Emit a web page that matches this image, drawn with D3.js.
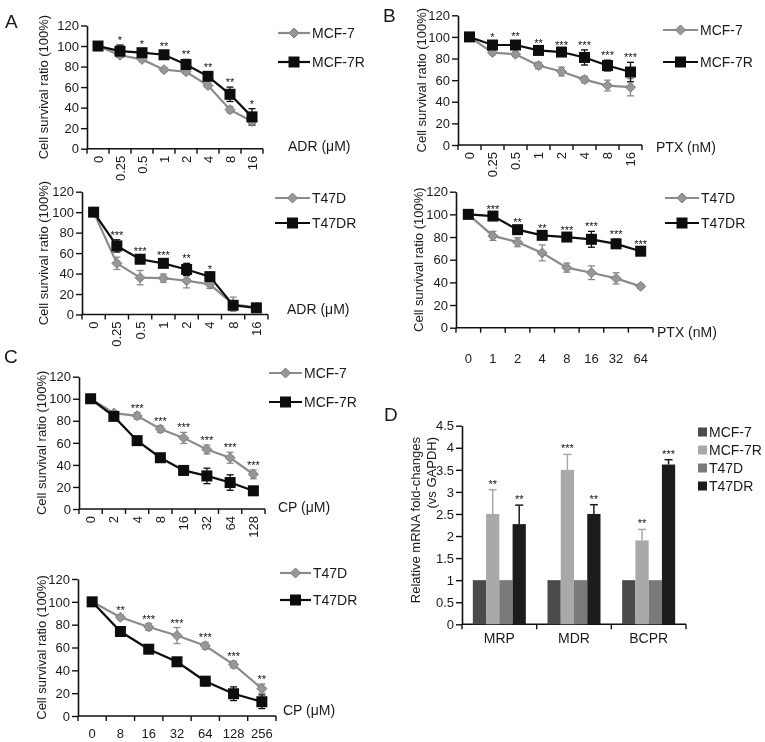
<!DOCTYPE html>
<html><head><meta charset="utf-8">
<script src="https://cdn.jsdelivr.net/npm/d3@7"></script>
<style>
body{margin:0;background:#fff;}
svg{will-change:transform;}
text{font-family:"Liberation Sans",Arial,sans-serif;fill:#1a1a1a;}
.stars text{fill:#111;}
</style></head>
<body><svg id="chart" width="765" height="742"></svg>
<script>
// ---------- DATA ----------
const yTicksSurvival = [0, 20, 40, 60, 80, 100, 120];

const A1_doses = ["0","0.25","0.5","1","2","4","8","16"];
const A1_mcf7 = [100, 91, 87, 77, 75, 61.5, 38, 26.5];
const A1_mcf7_err = [0, 2, 2, 2, 2, 2, 3, 2];
const A1_mcf7r = [100, 95, 93.5, 91.5, 82, 70.5, 53, 31];
const A1_mcf7r_err = [0, 6, 4, 4, 5, 4, 7, 8];
const A1_stars = ["", "*", "*", "**", "**", "**", "**", "*"];

const A2_doses = ["0","0.25","0.5","1","2","4","8","16"];
const A2_t47d = [100, 50, 36, 35.5, 33, 29.5, 10, 7];
const A2_t47d_err = [0, 6, 7, 4, 7, 4, 7, 2];
const A2_t47dr = [100, 67, 54, 50, 44, 37, 9, 6.5];
const A2_t47dr_err = [0, 6, 3, 3, 6, 3, 3, 2];
const A2_stars = ["", "***", "***", "***", "**", "*", "", ""];

const B1_doses = ["0","0.25","0.5","1","2","4","8","16"];
const B1_mcf7 = [100, 85.5, 84, 73.5, 68, 60.5, 55, 53.5];
const B1_mcf7_err = [0, 2, 2, 3, 4, 3, 5, 8];
const B1_mcf7r = [100, 92.5, 92.5, 87.5, 86, 81, 73.5, 67.5];
const B1_mcf7r_err = [0, 3, 4, 2, 2, 7, 5, 9];
const B1_stars = ["", "*", "**", "**", "***", "***", "***", "***"];

const B2_doses = ["0","1","2","4","8","16","32","64"];
const B2_t47d = [100, 81, 75.5, 66, 53, 48.5, 43.5, 36.5];
const B2_t47d_err = [0, 4, 4, 7, 4, 6, 5, 2];
const B2_t47dr = [100, 98.5, 86.5, 81.5, 80, 78, 74, 67.5];
const B2_t47dr_err = [0, 2, 2, 2, 2, 7, 4, 2];
const B2_stars = ["", "***", "**", "**", "***", "***", "***", "***"];

const C1_doses = ["0","2","4","8","16","32","64","128"];
const C1_mcf7 = [100, 87, 84.5, 72.5, 64.5, 54, 46.5, 31.5];
const C1_mcf7_err = [0, 2, 3, 3, 5, 4, 5, 4];
const C1_mcf7r = [100, 84, 62, 46.5, 35, 30, 24, 16.5];
const C1_mcf7r_err = [0, 2, 2, 2, 4, 7, 7, 2];
const C1_stars = ["", "", "***", "***", "***", "***", "***", "***"];

const C2_doses = ["0","8","16","32","64","128","256"];
const C2_t47d = [100, 86.5, 78, 70.5, 61.5, 45, 24];
const C2_t47d_err = [0, 2, 3, 7, 3, 3, 4];
const C2_t47dr = [100, 74, 58.5, 47.5, 30.5, 19.5, 12.5];
const C2_t47dr_err = [0, 2, 2, 2, 4, 6, 6];
const C2_stars = ["", "**", "***", "***", "***", "***", "**"];

const D_genes = ["MRP", "MDR", "BCPR"];
const D_series = ["MCF-7", "MCF-7R", "T47D", "T47DR"];
const D_mcf7 = [1, 1, 1];
const D_mcf7r = [2.5, 3.5, 1.9];
const D_t47d = [1, 1, 1];
const D_t47dr = [2.27, 2.5, 3.62];
const D_mcf7r_err = [0.55, 0.35, 0.25];
const D_t47dr_err = [0.43, 0.21, 0.11];
const D_mcf7r_stars = ["**", "***", "**"];
const D_t47dr_stars = ["**", "**", "***"];
const D_yTicks = [0, 0.5, 1, 1.5, 2, 2.5, 3, 3.5, 4, 4.5];

// ---------- STYLE ----------
const GRAY = "#8b8b8b", BLACK = "#0d0d0d";
const D_colors = ["#4b4b4b", "#a9a9a9", "#7a7a7a", "#1c1c1c"];
const svg = d3.select("#chart");

function linePanel(cfg) {
  const g = svg.append("g");
  const x = d3.scaleBand().domain(cfg.doses).range([cfg.x0, cfg.x1]);
  const y = d3.scaleLinear().domain([0, 120]).range([cfg.yb, cfg.yt]);
  const ya = g.append("g").attr("transform", `translate(${cfg.x0},0)`)
    .call(d3.axisLeft(y).tickValues(yTicksSurvival).tickSize(6).tickSizeOuter(0).tickPadding(2));
  ya.select(".domain").attr("stroke", "#111").attr("stroke-width", 1.6);
  ya.selectAll(".tick line").attr("stroke", "#111").attr("stroke-width", 1.4);
  ya.selectAll(".tick text").style("font-size", "13px").attr("fill", "#1a1a1a");
  g.append("line").attr("x1", cfg.x0).attr("x2", cfg.x1).attr("y1", cfg.yb).attr("y2", cfg.yb)
    .attr("stroke", "#111").attr("stroke-width", 1.6);
  const bounds = cfg.doses.map(d => x(d)).concat([cfg.x1]);
  g.selectAll(".xt").data(bounds).enter().append("line")
    .attr("x1", d => d).attr("x2", d => d).attr("y1", cfg.yb).attr("y2", cfg.yb + 5)
    .attr("stroke", "#111").attr("stroke-width", 1.4);
  const cx = d => x(d) + x.bandwidth() / 2;
  if (cfg.rotate) {
    g.selectAll(".xl").data(cfg.doses).enter().append("text")
      .attr("transform", d => `translate(${cx(d)},${cfg.yb + 7}) rotate(-90)`)
      .attr("text-anchor", "end").attr("dy", "0.35em").style("font-size", "13px").text(d => d);
  } else {
    g.selectAll(".xl").data(cfg.doses).enter().append("text")
      .attr("x", cx).attr("y", cfg.labelY).attr("text-anchor", "middle")
      .style("font-size", "13px").text(d => d);
  }
  g.append("text").attr("transform", `translate(${cfg.titleX},${(cfg.yt + cfg.yb) / 2}) rotate(-90)`)
    .attr("text-anchor", "middle").attr("dy", "0.35em").style("font-size", "13px")
    .text("Cell survival ratio (100%)");
  g.append("text").attr("x", cfg.unitX).attr("y", cfg.unitY).attr("dy", "0.35em")
    .style("font-size", "14px").text(cfg.unit);
  const series = [
    {vals: cfg.s1, err: cfg.e1, color: GRAY, shape: "diamond", name: cfg.n1},
    {vals: cfg.s2, err: cfg.e2, color: BLACK, shape: "square", name: cfg.n2}
  ];
  const line = d3.line().x((v, i) => cx(cfg.doses[i])).y(v => y(v));
  series.forEach(s => {
    g.append("path").datum(s.vals).attr("d", line).attr("fill", "none")
      .attr("stroke", s.color).attr("stroke-width", 2.2);
    s.vals.forEach((v, i) => {
      if (!s.err[i]) return;
      const xx = cx(cfg.doses[i]);
      const top = y(v + s.err[i]), bot = y(v - s.err[i]);
      g.append("line").attr("x1", xx).attr("x2", xx).attr("y1", top).attr("y2", bot)
        .attr("stroke", s.color).attr("stroke-width", 1.3);
      [top, bot].forEach(yy => g.append("line").attr("x1", xx - 3.5).attr("x2", xx + 3.5)
        .attr("y1", yy).attr("y2", yy).attr("stroke", s.color).attr("stroke-width", 1.3));
    });
  });
  series.forEach(s => {
    s.vals.forEach((v, i) => drawMarker(g, s.shape, cx(cfg.doses[i]), y(v), s.color));
  });
  const sg = g.append("g").attr("class", "stars");
  cfg.stars.forEach((st, i) => {
    if (!st) return;
    const t1 = cfg.s1[i] + cfg.e1[i], t2 = cfg.s2[i] + cfg.e2[i];
    sg.append("text").attr("x", cx(cfg.doses[i])).attr("y", y(Math.max(t1, t2)) - 1)
      .attr("text-anchor", "middle").style("font-size", "11px").text(st);
  });
  series.forEach((s, k) => {
    const ly = cfg.legY[k];
    g.append("line").attr("x1", cfg.legX0).attr("x2", cfg.legX1).attr("y1", ly).attr("y2", ly)
      .attr("stroke", s.color).attr("stroke-width", 2.2);
    drawMarker(g, s.shape, (cfg.legX0 + cfg.legX1) / 2, ly, s.color);
    g.append("text").attr("x", cfg.legX1 + 2).attr("y", ly).attr("dy", "0.35em")
      .style("font-size", "14px").text(s.name);
  });
  if (cfg.letter) g.append("text").attr("x", cfg.letterX).attr("y", cfg.letterY)
    .style("font-size", "19px").text(cfg.letter);
}

function drawMarker(g, shape, x, y, color) {
  if (shape === "square") {
    g.append("rect").attr("x", x - 5.5).attr("y", y - 5.5).attr("width", 11).attr("height", 11)
      .attr("fill", color);
  } else {
    g.append("path").attr("d", `M${x},${y - 5}L${x + 5},${y}L${x},${y + 5}L${x - 5},${y}Z`)
      .attr("fill", "#979797").attr("stroke", "#7d7d7d").attr("stroke-width", 1);
  }
}

linePanel({doses: A1_doses, s1: A1_mcf7, e1: A1_mcf7_err, s2: A1_mcf7r, e2: A1_mcf7r_err,
  stars: A1_stars, n1: "MCF-7", n2: "MCF-7R", x0: 87, x1: 263, yt: 25.5, yb: 148.7,
  rotate: true, titleX: 43, unit: "ADR (\u03bcM)", unitX: 288, unitY: 146,
  legX0: 278, legX1: 310, legY: [33, 62], letter: "A", letterX: 5, letterY: 28});
linePanel({doses: A2_doses, s1: A2_t47d, e1: A2_t47d_err, s2: A2_t47dr, e2: A2_t47dr_err,
  stars: A2_stars, n1: "T47D", n2: "T47DR", x0: 82, x1: 268, yt: 191.7, yb: 314.5,
  rotate: true, titleX: 43, unit: "ADR (\u03bcM)", unitX: 287, unitY: 309,
  legX0: 275, legX1: 310, legY: [198, 223]});
linePanel({doses: B1_doses, s1: B1_mcf7, e1: B1_mcf7_err, s2: B1_mcf7r, e2: B1_mcf7r_err,
  stars: B1_stars, n1: "MCF-7", n2: "MCF-7R", x0: 458, x1: 642, yt: 15.3, yb: 145,
  rotate: true, titleX: 421, unit: "PTX (nM)", unitX: 656, unitY: 147,
  legX0: 663, legX1: 698, legY: [30, 62], letter: "B", letterX: 383, letterY: 22});
linePanel({doses: B2_doses, s1: B2_t47d, e1: B2_t47d_err, s2: B2_t47dr, e2: B2_t47dr_err,
  stars: B2_stars, n1: "T47D", n2: "T47DR", x0: 456, x1: 653, yt: 191.7, yb: 327.7,
  rotate: false, labelY: 363, titleX: 418, unit: "PTX (nM)", unitX: 657, unitY: 332,
  legX0: 665, legX1: 699, legY: [198, 223]});
linePanel({doses: C1_doses, s1: C1_mcf7, e1: C1_mcf7_err, s2: C1_mcf7r, e2: C1_mcf7r_err,
  stars: C1_stars, n1: "MCF-7", n2: "MCF-7R", x0: 79, x1: 265, yt: 376.7, yb: 509,
  rotate: true, titleX: 41, unit: "CP (\u03bcM)", unitX: 278, unitY: 507,
  legX0: 269, legX1: 302, legY: [373, 402], letter: "C", letterX: 4, letterY: 363});
linePanel({doses: C2_doses, s1: C2_t47d, e1: C2_t47d_err, s2: C2_t47dr, e2: C2_t47dr_err,
  stars: C2_stars, n1: "T47D", n2: "T47DR", x0: 78, x1: 276, yt: 579, yb: 716,
  rotate: false, labelY: 738, titleX: 41, unit: "CP (\u03bcM)", unitX: 283, unitY: 710,
  legX0: 280, legX1: 311, legY: [573, 600]});

// ---------- Panel D ----------
(function () {
  const g = svg.append("g");
  const x0 = 462, x1 = 686, yt = 425.7, yb = 624.3;
  const x = d3.scaleBand().domain(D_genes).range([x0, x1]).paddingInner(0.29).paddingOuter(0.145);
  const xs = d3.scaleBand().domain(D_series).range([0, x.bandwidth()]);
  const y = d3.scaleLinear().domain([0, 4.5]).range([yb, yt]);
  const ya = g.append("g").attr("transform", `translate(${x0},0)`)
    .call(d3.axisLeft(y).tickValues(D_yTicks).tickFormat(d => String(d)).tickSize(6).tickSizeOuter(0).tickPadding(2));
  ya.select(".domain").attr("stroke", "#111").attr("stroke-width", 1.6);
  ya.selectAll(".tick line").attr("stroke", "#111").attr("stroke-width", 1.4);
  ya.selectAll(".tick text").style("font-size", "13px").attr("fill", "#1a1a1a");
  g.append("line").attr("x1", x0).attr("x2", x1).attr("y1", yb).attr("y2", yb)
    .attr("stroke", "#111").attr("stroke-width", 1.6);
  const step = (x1 - x0) / D_genes.length;
  d3.range(D_genes.length + 1).forEach(i => g.append("line")
    .attr("x1", x0 + i * step).attr("x2", x0 + i * step).attr("y1", yb).attr("y2", yb + 5)
    .attr("stroke", "#111").attr("stroke-width", 1.4));
  const vals = [D_mcf7, D_mcf7r, D_t47d, D_t47dr];
  const errs = [null, D_mcf7r_err, null, D_t47dr_err];
  const stars = [null, D_mcf7r_stars, null, D_t47dr_stars];
  const sg = g.append("g").attr("class", "stars");
  D_genes.forEach((gene, gi) => {
    D_series.forEach((s, si) => {
      const v = vals[si][gi];
      const bx = x(gene) + xs(s), bw = xs.bandwidth();
      g.append("rect").attr("x", bx).attr("y", y(v)).attr("width", bw).attr("height", yb - y(v))
        .attr("fill", D_colors[si]);
      if (errs[si]) {
        const top = y(v + errs[si][gi]), cxp = bx + bw / 2;
        g.append("line").attr("x1", cxp).attr("x2", cxp).attr("y1", y(v)).attr("y2", top)
          .attr("stroke", D_colors[si]).attr("stroke-width", 1.5);
        g.append("line").attr("x1", cxp - 4).attr("x2", cxp + 4).attr("y1", top).attr("y2", top)
          .attr("stroke", D_colors[si]).attr("stroke-width", 1.5);
        sg.append("text").attr("x", cxp).attr("y", top - 2).attr("text-anchor", "middle")
          .style("font-size", "11px").text(stars[si][gi]);
      }
    });
    g.append("text").attr("x", x(gene) + x.bandwidth() / 2).attr("y", 643).attr("text-anchor", "middle")
      .style("font-size", "14px").text(gene);
  });
  g.append("text").attr("transform", `translate(415,437) rotate(-90)`)
    .attr("text-anchor", "end").attr("dy", "0.35em").style("font-size", "13px")
    .text("Relative mRNA fold-changes");
  g.append("text").attr("transform", `translate(431,437) rotate(-90)`)
    .attr("text-anchor", "end").attr("dy", "0.35em").style("font-size", "13px")
    .text("(vs GAPDH)");
  const legY = [432, 450, 468, 486];
  D_series.forEach((s, i) => {
    g.append("rect").attr("x", 698).attr("y", legY[i] - 4.5).attr("width", 9).attr("height", 9)
      .attr("fill", D_colors[i]);
    g.append("text").attr("x", 709).attr("y", legY[i]).attr("dy", "0.35em")
      .style("font-size", "14px").text(s);
  });
  g.append("text").attr("x", 384).attr("y", 421).style("font-size", "19px").text("D");
})();
</script></body></html>
